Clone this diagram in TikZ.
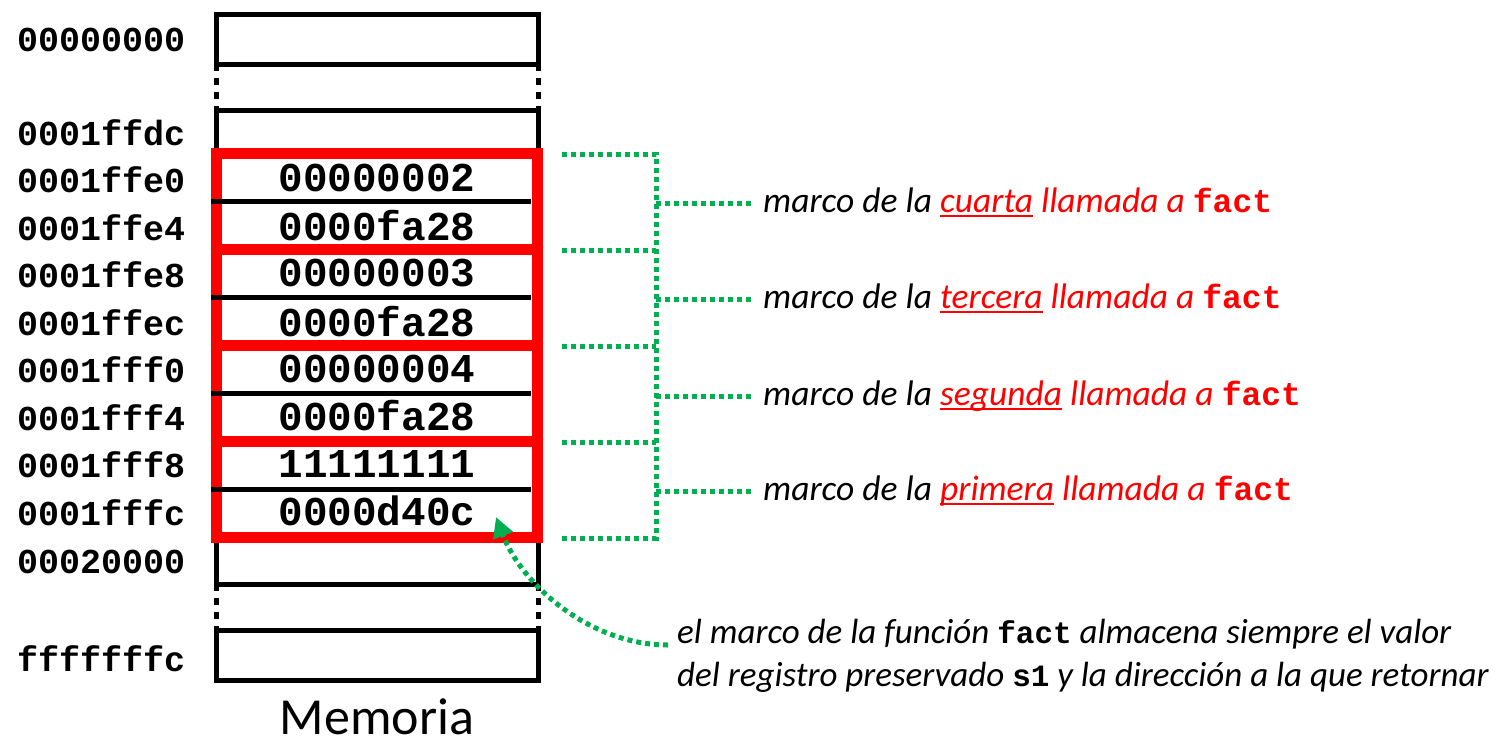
\documentclass[tikz,border=0pt]{standalone}
\usepackage{fontspec}
\setmainfont{Carlito}
\newfontfamily\monofam{Liberation Mono}
\usetikzlibrary{arrows.meta}
\definecolor{fgreen}{RGB}{0,176,80}
\definecolor{fred}{RGB}{255,0,0}
\newcommand\ulword[1]{\setbox0\hbox{#1}\rlap{\rule[-5pt]{\wd0}{2.5pt}}\box0\relax}
\newcommand\codeword[1]{{\monofam\upshape\bfseries\fontsize{33}{40}\selectfont #1}}
\newcommand\notecode[1]{{\monofam\upshape\bfseries\fontsize{31}{40}\selectfont #1}}
\begin{document}
\begin{tikzpicture}[x=1pt,y=-1pt,
  addr/.style={anchor=west, inner sep=0pt, font=\monofam\bfseries\fontsize{35}{40}\selectfont},
  val/.style={inner sep=0pt, font=\monofam\bfseries\fontsize{41}{46}\selectfont},
  memline/.style={draw=black, line width=5pt},
  gapline/.style={draw=black, line width=5pt, dash pattern=on 7pt off 7pt},
  framebox/.style={draw=fred, line width=11pt},
  gdot/.style={draw=fgreen, line width=5pt, dash pattern=on 5pt off 4pt},
  lbl/.style={anchor=base west, inner sep=0pt, font=\itshape\fontsize{35.5}{43}\selectfont},
  note/.style={anchor=base west, inner sep=0pt, font=\itshape\fontsize{35}{43}\selectfont}
]
\useasboundingbox (0,0) rectangle (1506,739);

% memory column (black)
\draw[memline] (216,14) rectangle (538,64);
\draw[gapline] (216,64) -- (216,110);
\draw[gapline] (538,64) -- (538,110);
\draw[memline] (216,110) -- (538,110);
\draw[memline] (216,110) -- (216,584);
\draw[memline] (538,110) -- (538,584);
\draw[memline] (216,584) -- (538,584);
\draw[gapline] (216,584) -- (216,630);
\draw[gapline] (538,584) -- (538,630);
\draw[memline] (216,630) rectangle (538,680);

% red stack frames
\draw[framebox] (216,153.5) rectangle (537.5,537.5);
\foreach \yy in {249,345,441} \draw[framebox] (216,\yy) -- (537.5,\yy);
\foreach \yy in {201,297,393,489} \draw[memline] (211,\yy) -- (531,\yy);

% addresses
\node[addr] (a0) at (17,40) {00000000};
\node[addr] (a1) at (17,133) {0001ffdc};
\node[addr] (a2) at (17,180) {0001ffe0};
\node[addr] (a3) at (17,228) {0001ffe4};
\node[addr] (a4) at (17,275) {0001ffe8};
\node[addr] (a5) at (17,323) {0001ffec};
\node[addr] (a6) at (17,370) {0001fff0};
\node[addr] (a7) at (17,418) {0001fff4};
\node[addr] (a8) at (17,465) {0001fff8};
\node[addr] (a9) at (17,513) {0001fffc};
\node[addr] (a10) at (17,562) {00020000};
\node[addr] (a11) at (17,659) {fffffffc};

% values
\node[val] (v1) at (377,178) {00000002};
\node[val] (v2) at (377,226) {0000fa28};
\node[val] (v3) at (377,273) {00000003};
\node[val] (v4) at (377,322) {0000fa28};
\node[val] (v5) at (377,369) {00000004};
\node[val] (v6) at (377,416) {0000fa28};
\node[val] (v7) at (377,464) {11111111};
\node[val] (v8) at (377,511) {0000d40c};

\node[anchor=base, inner sep=0pt, font=\fontsize{52}{60}\selectfont] (mem) at (377,734) {Memoria};

% green bracket
\coordinate (b0) at (562,154);
\coordinate (b1) at (562,250);
\coordinate (b2) at (562,346);
\coordinate (b3) at (562,442);
\coordinate (b4) at (562,538);
\draw[gdot] (b0) -- (656,154) -- (656,538) -- (b4);
\draw[gdot] (b1) -- (656,250);
\draw[gdot] (b2) -- (656,346);
\draw[gdot] (b3) -- (656,442);

% labels
\node[lbl] (l1) at (763,212) {marco de la \textcolor{fred}{\ulword{cuarta} llamada a \codeword{fact}}};
\node[lbl] (l2) at (763,308) {marco de la \textcolor{fred}{\ulword{tercera} llamada a \codeword{fact}}};
\node[lbl] (l3) at (763,405) {marco de la \textcolor{fred}{\ulword{segunda} llamada a \codeword{fact}}};
\node[lbl] (l4) at (763,500) {marco de la \textcolor{fred}{\ulword{primera} llamada a \codeword{fact}}};
\coordinate (e1) at (752,203);
\coordinate (e2) at (752,299);
\coordinate (e3) at (752,396);
\coordinate (e4) at (752,491);
\draw[gdot] (656,203) -- (e1);
\draw[gdot] (656,299) -- (e2);
\draw[gdot] (656,396) -- (e3);
\draw[gdot] (656,491) -- (e4);

% note and arrow
\node[note] (n1) at (677,643) {el marco de la función \notecode{fact} almacena siempre el valor};
\node[note] (n2) at (677,686) {del registro preservado \notecode{s1} y la dirección a la que retornar};
\coordinate (as) at (668,645);
\coordinate (at) at (496,517);
\draw[gdot, -{Triangle[length=20pt,width=20pt]}] (as) .. controls (590,645) and (522,585) .. (at);
\end{tikzpicture}
\end{document}
